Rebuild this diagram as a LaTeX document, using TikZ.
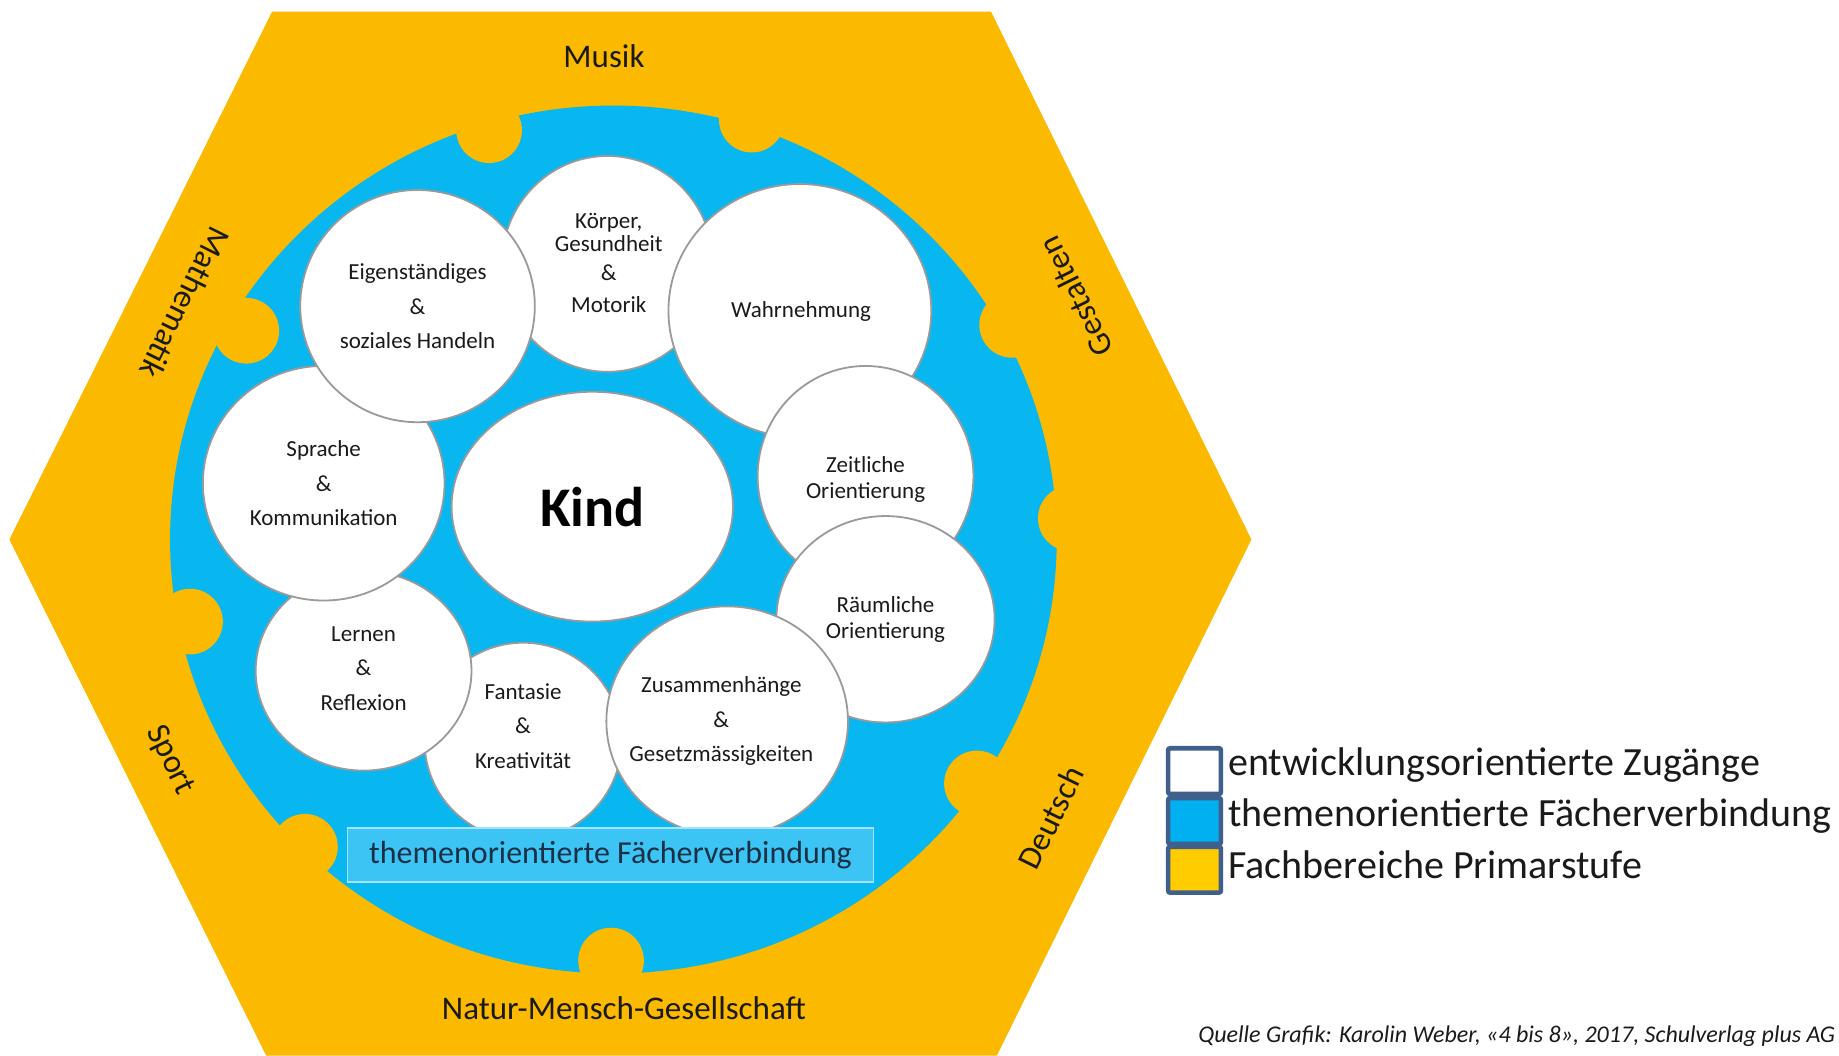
\documentclass[tikz,border=0pt]{standalone}
\usepackage{fontspec}
\setmainfont{Carlito}
\usetikzlibrary{shapes.geometric}
\definecolor{hexyellow}{HTML}{FBBA00}
\definecolor{ringblue}{HTML}{08B6F0}
\definecolor{boxblue}{HTML}{3CC5F4}
\definecolor{boxedge}{HTML}{A5E3F9}
\definecolor{legframe}{HTML}{3F5F8C}
\definecolor{legyellow}{HTML}{FFCC00}
\definecolor{legblue}{HTML}{00B0F0}
\definecolor{txt}{HTML}{1A1A1A}
\definecolor{boxtxt}{HTML}{1B2F45}
\definecolor{rim}{HTML}{9A9A9A}
\begin{document}
\begin{tikzpicture}[x=0.5864pt,y=-0.5864pt,
  bubble/.style={ellipse,draw=rim,line width=0.9pt,fill=white,inner sep=0pt},
  btext/.style={align=center,text=txt,inner sep=0pt,font=\fontsize{11.5}{17.3}\selectfont},
  btexttwo/.style={align=center,text=txt,inner sep=0pt,font=\fontsize{11.5}{12.9}\selectfont},
  lbl/.style={text=txt,inner sep=0pt,font=\fontsize{16.5}{19}\selectfont},
  knob/.style={fill=hexyellow},
  legbox/.style={draw=legframe,line width=2.3pt,rounded corners=1pt,minimum width=26.4pt,minimum height=22.9pt,inner sep=0pt},
  legtxt/.style={anchor=base west,inner sep=0pt,text=txt,font=\fontsize{20}{24}\selectfont}]
\useasboundingbox (0,0) rectangle (1568,900);
\fill[white] (0,0) rectangle (1568,900);
% hexagon
\fill[hexyellow] (232,10) -- (845,10) -- (1067,460) -- (850,900) -- (227,900) -- (8,460) -- cycle;
% blue ring
\fill[ringblue] (523,460) ellipse [x radius=378, y radius=370];
% puzzle knobs
\fill[knob] (417,111) circle [radius=28];
\fill[knob] (641,102) circle [radius=28];
\fill[knob] (210,282) circle [radius=28];
\fill[knob] (162,530) circle [radius=28];
\fill[knob] (260,722) circle [radius=28];
\fill[knob] (521,819) circle [radius=28];
\fill[knob] (863,277) circle [radius=28];
\fill[knob] (913,442) circle [radius=28];
\fill[knob] (833,668) circle [radius=28];
% bubbles
\node[bubble,minimum width=105.6pt,minimum height=107.9pt] (koerper) at (518,225) {};
\node[bubble,minimum width=131.4pt,minimum height=126.7pt] (wahrn) at (682,265) {};
\node[bubble,minimum width=107.9pt,minimum height=110.2pt] (zeit) at (738,406) {};
\node[bubble,minimum width=109.1pt,minimum height=103.2pt] (raum) at (755,528) {};
\node[bubble,minimum width=98.5pt,minimum height=98.5pt] (fant) at (446,632) {};
\node[bubble,minimum width=120.8pt,minimum height=114.9pt] (zusam) at (620,615) {};
\node[bubble,minimum width=107.9pt,minimum height=99.7pt] (lernen) at (310,572) {};
\node[bubble,minimum width=120.8pt,minimum height=117.3pt] (sprache) at (276,412) {};
\node[bubble,minimum width=117.3pt,minimum height=116.1pt] (eigen) at (356,261) {};
\node[bubble,minimum width=140.7pt,minimum height=114.9pt] (kind) at (505,432) {};
% bubble texts
\node[btext] (eigen-t) at (356,261) {Eigenständiges\\\&\\soziales Handeln};
\node[align=center,text=txt,inner sep=0pt,font=\fontsize{11.5}{11.7}\selectfont] (koerper-t) at (519,224) {Körper,\\Gesundheit\\[3pt]\&\\[4pt]Motorik};
\node[btext] (wahrn-t) at (683,266) {Wahrnehmung};
\node[btexttwo] (zeit-t) at (738,409) {Zeitliche\\Orientierung};
\node[btexttwo] (raum-t) at (755,528) {Räumliche\\Orientierung};
\node[btext] (zusam-t) at (615,615) {Zusammenhänge\\\&\\Gesetzmässigkeiten};
\node[btext] (fant-t) at (446,619) {Fantasie\\\&\\Kreativität};
\node[btext] (lernen-t) at (310,570) {Lernen\\\&\\Reflexion};
\node[btext] (sprache-t) at (276,412) {Sprache\\\&\\Kommunikation};
\node[inner sep=0pt,text=black,font=\fontsize{28}{32}\selectfont\bfseries] (kind-t) at (505,432) {Kind};
% inner label box
\node[draw=boxedge,line width=0.6pt,fill=boxblue,minimum width=263.3pt,minimum height=27pt,inner sep=0pt,text=boxtxt,font=\fontsize{16}{19}\selectfont] (tfv) at (520.5,729) {themenorientierte Fächerverbindung};
% subject labels
\node[lbl] (musik) at (515,48) {Musik};
\node[lbl] (natur) at (532,860) {Natur-Mensch-Gesellschaft};
\node[lbl,rotate=-116.5] (mathe) at (158,258) {Mathematik};
\node[lbl,rotate=116.3] (gest) at (917,253) {Gestalten};
\node[lbl,rotate=-63.7] (sport) at (145,648) {Sport};
\node[lbl,rotate=63.8] (deutsch) at (896,697) {Deutsch};
% legend
\node[legbox,fill=white] (lw) at (1018.5,657.5) {};
\node[legbox,fill=legblue] (lb) at (1018.5,700) {};
\node[legbox,fill=legyellow] (ly) at (1018.5,741.5) {};
\node[legtxt] (l1) at (1047,661) {entwicklungsorientierte Zugänge};
\node[legtxt] (l2) at (1047,705) {themenorientierte Fächerverbindung};
\node[legtxt] (l3) at (1047,749) {Fachbereiche Primarstufe};
\node[anchor=base east,inner sep=0pt,text=txt,font=\fontsize{12}{14}\selectfont\itshape] (src) at (1565,889) {Quelle Grafik: Karolin Weber, «4 bis 8», 2017, Schulverlag plus AG};
\end{tikzpicture}
\end{document}
